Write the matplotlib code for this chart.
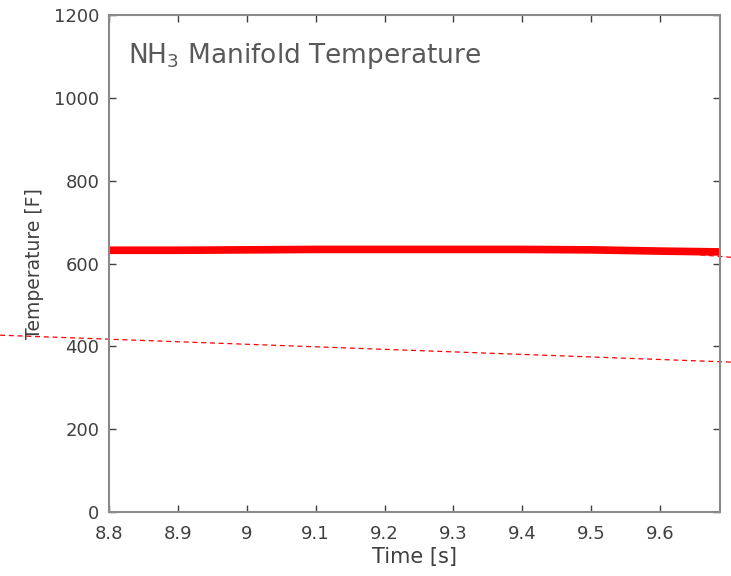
import matplotlib.pyplot as plt

# manifold temperature trace
time_s = [8.80, 8.90, 9.00, 9.10, 9.20, 9.30, 9.40, 9.50, 9.60, 9.687]
temp_f = [632, 632, 633, 634, 634, 634, 634, 633, 630, 628]

# dashed reference lines (extend past the axes)
ref_low_t = [8.642, 9.703]
ref_low_f = [427, 362]
ref_high_t = [9.62, 9.703]
ref_high_f = [626, 615]

plt.rcParams['font.family'] = ['DejaVu Sans']

fig = plt.figure(figsize=(7.31, 5.76), dpi=100)
ax = fig.add_axes([0.149, 0.111, 0.836, 0.863])

ax.plot(ref_low_t, ref_low_f, color='red', linestyle='--', linewidth=0.9,
        dashes=(4, 3), clip_on=False, zorder=1)
ax.plot(ref_high_t, ref_high_f, color='red', linestyle='--', linewidth=0.9,
        dashes=(4, 3), clip_on=False, zorder=1)
ax.plot(time_s, temp_f, color='red', linewidth=5.5, solid_capstyle='butt', zorder=2)

ax.set_xlim(8.8, 9.687)
ax.set_ylim(0, 1200)
ax.set_xticks([8.8, 8.9, 9.0, 9.1, 9.2, 9.3, 9.4, 9.5, 9.6])
ax.set_xticklabels(['8.8', '8.9', '9', '9.1', '9.2', '9.3', '9.4', '9.5', '9.6'])
ax.set_yticks(range(0, 1201, 200))

ax.tick_params(direction='in', top=True, right=True, length=5, width=1,
               color='#404040', labelsize=13, labelcolor='#404040')
ax.tick_params(axis='x', pad=9)
ax.tick_params(axis='y', pad=7)
for s in ax.spines.values():
    s.set_color('#8a8a8a')
    s.set_linewidth(1.5)

ax.set_xlabel('Time [s]', fontsize=15, color='#404040', labelpad=3)
ax.set_ylabel('Temperature [F]', fontsize=13.5, color='#404040', labelpad=7)

ax.text(0.031, 0.903, r'NH$_3$ Manifold Temperature', transform=ax.transAxes,
        fontsize=19, color='#595959', va='baseline', ha='left')

fig.savefig('out.png', dpi=100)
